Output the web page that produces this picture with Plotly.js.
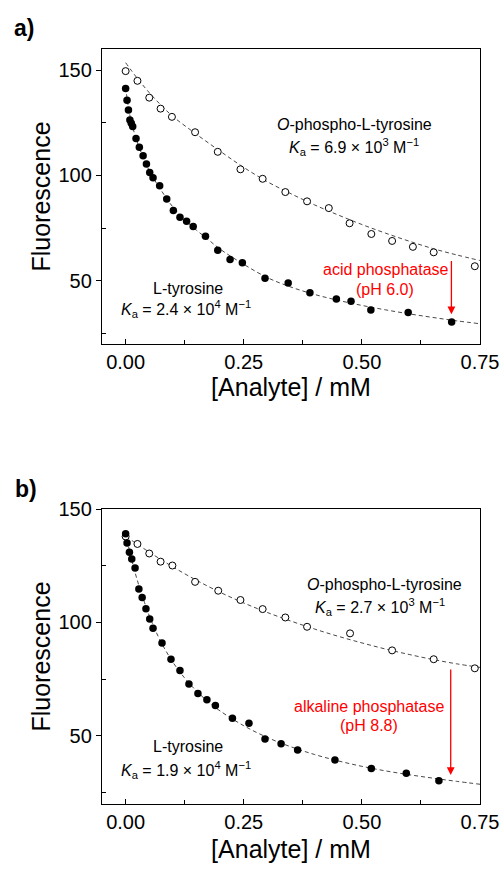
<!DOCTYPE html>
<html><head><meta charset="utf-8">
<script src="https://cdn.plot.ly/plotly-3.0.1.min.js"></script>
<style>html,body{margin:0;padding:0;background:#fff}#plot{width:500px;height:869px}</style>
</head><body><div id="plot"></div>
<script>
// ---- Panel a) acid phosphatase (pH 6.0) ----
const aOpenX = [0.000, 0.025, 0.050, 0.074, 0.098, 0.147, 0.195, 0.243, 0.290, 0.338, 0.384, 0.430, 0.474, 0.520, 0.564, 0.608, 0.652, 0.739];
const aOpenY = [149.5, 144.9, 136.9, 131.7, 127.8, 120.5, 111.2, 102.9, 98.4, 92.1, 87.7, 84.5, 77.3, 72.2, 68.9, 66.1, 63.5, 56.9];
const aFillX = [0.000, 0.003, 0.006, 0.009, 0.012, 0.015, 0.022, 0.029, 0.037, 0.044, 0.051, 0.058, 0.072, 0.087, 0.101, 0.115, 0.129, 0.143, 0.169, 0.195, 0.221, 0.247, 0.295, 0.344, 0.390, 0.446, 0.477, 0.519, 0.598, 0.690];
const aFillY = [141.2, 135.7, 131.1, 126.3, 124.8, 123.2, 117.5, 113.4, 109.3, 105.4, 101.4, 98.9, 95.1, 88.8, 83.3, 80.1, 78.2, 75.8, 71.1, 64.5, 60.1, 58.5, 51.2, 48.9, 44.3, 41.3, 40.3, 36.1, 34.9, 30.4];
// fitted curves
const aOpenFitX = [0, 0.025, 0.05, 0.075, 0.1, 0.15, 0.2, 0.25, 0.3, 0.35, 0.4, 0.45, 0.5, 0.55, 0.6, 0.65, 0.7, 0.75];
const aOpenFitY = [153.5, 146, 139.3, 133.3, 128, 119.5, 111.5, 103.8, 97, 91.3, 86, 81.2, 76.7, 72.6, 68.8, 65.3, 62.3, 59.6];
const aFillFitX = [0, 0.005, 0.01, 0.02, 0.03, 0.04, 0.05, 0.06, 0.075, 0.1, 0.125, 0.15, 0.175, 0.2, 0.25, 0.3, 0.35, 0.4, 0.45, 0.5, 0.55, 0.6, 0.65, 0.7, 0.75];
const aFillFitY = [142, 133.5, 127.5, 119, 112.5, 107, 102.3, 98.3, 93, 85, 79, 74, 69.5, 65, 57.8, 51.5, 47, 43.5, 40.7, 38.3, 36.2, 34.3, 32.6, 31, 29.6];

// ---- Panel b) alkaline phosphatase (pH 8.8) ----
const bOpenX = [0.000, 0.025, 0.050, 0.074, 0.099, 0.147, 0.196, 0.243, 0.290, 0.338, 0.384, 0.475, 0.564, 0.652, 0.739];
const bOpenY = [137.9, 134.6, 130.4, 126.8, 125.1, 117.9, 114.0, 109.9, 105.9, 102.2, 98.1, 95.2, 87.7, 83.8, 79.8];
const bFillX = [0.000, 0.003, 0.008, 0.013, 0.020, 0.028, 0.035, 0.043, 0.051, 0.058, 0.077, 0.096, 0.115, 0.134, 0.153, 0.172, 0.190, 0.226, 0.261, 0.295, 0.329, 0.364, 0.443, 0.520, 0.594, 0.663];
const bFillY = [139.1, 135.0, 131.0, 128.0, 124.0, 114.7, 111.0, 106.0, 101.5, 97.5, 91.0, 83.8, 78.8, 72.9, 68.7, 65.9, 63.4, 57.8, 55.6, 48.7, 46.5, 43.8, 39.4, 35.6, 33.5, 30.3];
const bOpenFitX = [0, 0.05, 0.1, 0.15, 0.2, 0.25, 0.3, 0.35, 0.4, 0.45, 0.5, 0.55, 0.6, 0.65, 0.7, 0.75];
const bOpenFitY = [138, 131, 124.5, 118.6, 113.3, 108.6, 104.4, 100.6, 97.1, 93.9, 91, 88.3, 85.9, 83.7, 81.8, 80.2];
const bFillFitX = [0, 0.01, 0.02, 0.03, 0.04, 0.05, 0.06, 0.075, 0.1, 0.125, 0.15, 0.175, 0.2, 0.25, 0.3, 0.35, 0.4, 0.45, 0.5, 0.55, 0.6, 0.65, 0.7, 0.75];
const bFillFitY = [139.5, 130, 122, 115, 108.8, 103, 98, 91.3, 82.5, 75.5, 69.8, 65, 61, 54.5, 49.3, 45.2, 41.8, 39, 36.6, 34.6, 32.9, 31.4, 30, 28.7];

const xTickVals = [0, 0.25, 0.5, 0.75];
const xTickText = ['0.00', '0.25', '0.50', '0.75'];
const yTickVals = [50, 100, 150];

const FONT = 'Liberation Sans, Arial, sans-serif';
const fitLine = {color: '#333', width: 0.9, dash: '4px,3px', shape: 'spline'};
const fillMarker = {size: 7.5, color: '#000', line: {width: 0}};
const openMarker = {size: 7, color: '#fff', symbol: 'circle', line: {width: 1, color: '#000'}};

function traces(xa, ya, ofx, ofy, ffx, ffy, ox, oy, fx, fy) {
  return [
    {x: ofx, y: ofy, xaxis: xa, yaxis: ya, mode: 'lines', line: fitLine, hoverinfo: 'skip'},
    {x: ffx, y: ffy, xaxis: xa, yaxis: ya, mode: 'lines', line: fitLine, hoverinfo: 'skip'},
    {x: ox, y: oy, xaxis: xa, yaxis: ya, mode: 'markers', marker: openMarker},
    {x: fx, y: fy, xaxis: xa, yaxis: ya, mode: 'markers', marker: fillMarker}
  ];
}

const data = [].concat(
  traces('x', 'y', aOpenFitX, aOpenFitY, aFillFitX, aFillFitY, aOpenX, aOpenY, aFillX, aFillY),
  traces('x2', 'y2', bOpenFitX, bOpenFitY, bFillFitX, bFillFitY, bOpenX, bOpenY, bFillX, bFillY)
);

function xAxis(anchor, standoff) {
  return {
    anchor: anchor, range: [-0.05, 0.75], tickvals: xTickVals, ticktext: xTickText,
    ticks: 'inside', ticklen: 5, tickwidth: 1, tickcolor: '#000',
    minor: {tickvals: [0.125, 0.375, 0.625], ticks: 'inside', ticklen: 4, tickwidth: 1, tickcolor: '#000'},
    showline: true, linecolor: '#000', linewidth: 1.2, mirror: true,
    showgrid: false, zeroline: false,
    tickfont: {family: FONT, size: 20, color: '#000'},
    ticklabelstandoff: 0,
    title: {text: '[Analyte] / mM', font: {family: FONT, size: 25, color: '#000'}, standoff: standoff}
  };
}
function yAxis(anchor, domain, range) {
  return {
    anchor: anchor, domain: domain, range: range, tickvals: yTickVals,
    ticks: 'outside', ticklen: 5, tickwidth: 1, tickcolor: '#000',
    minor: {tickvals: [25, 75, 125], ticks: 'inside', ticklen: 4, tickwidth: 1, tickcolor: '#000'},
    showline: true, linecolor: '#000', linewidth: 1.2, mirror: true,
    showgrid: false, zeroline: false,
    tickfont: {family: FONT, size: 20, color: '#000'},
    title: {text: 'Fluorescence', font: {family: FONT, size: 25, color: '#000'}, standoff: 0}
  };
}

function label(xref, yref, x, y, text, color) {
  return {xref: xref, yref: yref, x: x, y: y, text: text, showarrow: false,
          font: {family: FONT, size: 16, color: color || '#000'}, xanchor: 'center', yanchor: 'middle'};
}
const RED = '#ff0000';
const annotations = [
  {xref: 'paper', yref: 'paper', x: -0.206, y: 1.028, text: '<b>a)</b>', showarrow: false, font: {family: FONT, size: 23, color: '#000'}, xanchor: 'center', yanchor: 'middle'},
  {xref: 'paper', yref: 'paper', x: -0.201, y: 0.4172, text: '<b>b)</b>', showarrow: false, font: {family: FONT, size: 23, color: '#000'}, xanchor: 'center', yanchor: 'middle'},
  label('x', 'y', 0.4835, 124.4, '<i>O</i>-phospho-L-tyrosine'),
  label('x', 'y', 0.4835, 113.6, '<i>K</i><sub>a</sub> = 6.9 × 10<sup>3</sup> M<sup>−1</sup>'),
  label('x', 'y', 0.131, 46.4, 'L-tyrosine'),
  label('x', 'y', 0.127, 36.4, '<i>K</i><sub>a</sub> = 2.4 × 10<sup>4</sup> M<sup>−1</sup>'),
  label('x', 'y', 0.550, 55.3, 'acid phosphatase', RED),
  label('x', 'y', 0.549, 45.9, '(pH 6.0)', RED),
  {xref: 'x', yref: 'y', axref: 'x', ayref: 'y', x: 0.6895, y: 34.1, ax: 0.6895, ay: 60.1, text: '', showarrow: true, arrowhead: 2, arrowsize: 1.2, arrowwidth: 1.3, arrowcolor: RED},
  label('x2', 'y2', 0.547, 116.6, '<i>O</i>-phospho-L-tyrosine'),
  label('x2', 'y2', 0.539, 106.9, '<i>K</i><sub>a</sub> = 2.7 × 10<sup>3</sup> M<sup>−1</sup>'),
  label('x2', 'y2', 0.131, 45.3, 'L-tyrosine'),
  label('x2', 'y2', 0.127, 35.0, '<i>K</i><sub>a</sub> = 1.9 × 10<sup>4</sup> M<sup>−1</sup>'),
  label('x2', 'y2', 0.516, 62.9, 'alkaline phosphatase', RED),
  label('x2', 'y2', 0.515, 54.5, '(pH 8.8)', RED),
  {xref: 'x2', yref: 'y2', axref: 'x2', ayref: 'y2', x: 0.688, y: 32.8, ax: 0.688, ay: 79.9, text: '', showarrow: true, arrowhead: 2, arrowsize: 1.2, arrowwidth: 1.3, arrowcolor: RED}
];

const layout = {
  width: 500, height: 869,
  margin: {l: 102, r: 20, t: 49, b: 65},
  paper_bgcolor: '#fff', plot_bgcolor: '#fff',
  showlegend: false,
  xaxis: xAxis('y', 2),
  yaxis: yAxis('x', [0.6093, 1], [20, 160]),
  xaxis2: xAxis('y2', 8),
  yaxis2: yAxis('x2', [0, 0.3907], [20, 150]),
  annotations: annotations
};

Plotly.newPlot('plot', data, layout, {displayModeBar: false, staticPlot: true});
</script>
</body></html>
